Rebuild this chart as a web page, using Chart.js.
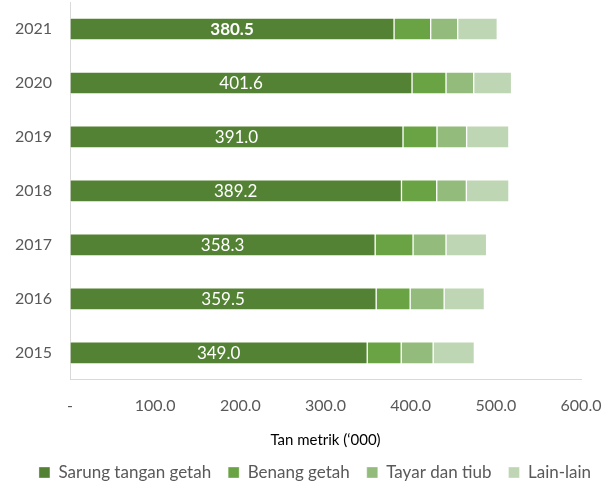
<!DOCTYPE html>
<html>
<head>
<meta charset="utf-8">
<script src="https://cdn.jsdelivr.net/npm/chart.js@4"></script>
<style>
  html, body { margin: 0; padding: 0; background: #fff; }
  #wrap { width: 614px; height: 483px; }
</style>
</head>
<body>
<div id="wrap"><canvas id="rubberChart"></canvas></div>
<script>
// Data
const years = ["2021", "2020", "2019", "2018", "2017", "2016", "2015"]
const sarungTangan = [380.5, 401.6, 391.0, 389.2, 358.3, 359.5, 349.0]
const benangGetah = [43.0, 39.9, 39.9, 41.4, 44.5, 39.9, 39.9]
const tayarTiub = [31.7, 32.5, 34.8, 34.8, 38.7, 39.9, 37.5]
const lainLain = [46.5, 44.5, 49.6, 50.0, 47.7, 47.3, 48.4]
const xTicks = [0, 100, 200, 300, 400, 500, 600]

const fontFamily = "Lato, 'Open Sans', sans-serif"
const grey = "#595959"

// white value labels on the first segment
const valueLabels = {
  id: "valueLabels",
  afterDatasetsDraw(chart) {
    const ctx = chart.ctx
    const meta = chart.getDatasetMeta(0)
    ctx.save()
    ctx.fillStyle = "#fff"
    ctx.textAlign = "center"
    ctx.textBaseline = "middle"
    meta.data.forEach((bar, i) => {
      ctx.font = (i === 0 ? "bold " : "") + "17px " + fontFamily
      ctx.fillText(sarungTangan[i].toFixed(1), (bar.x + bar.base) / 2, bar.y + 1)
    })
    ctx.restore()
  }
}

const seg = (label, data, color) => ({
  label: label,
  data: data,
  backgroundColor: color,
  borderColor: "rgba(255,255,255,0.35)",
  borderWidth: 1,
  borderSkipped: false,
  barThickness: 22
})

const ctx = document.querySelector("#rubberChart").getContext("2d")

new Chart(ctx, {
  type: "bar",
  data: {
    labels: years,
    datasets: [
      seg("Sarung tangan getah", sarungTangan, "#548235"),
      seg("Benang getah", benangGetah, "#6AA343"),
      seg("Tayar dan tiub", tayarTiub, "#93BB7B"),
      seg("Lain-lain", lainLain, "#BFD6B4")
    ]
  },
  options: {
    indexAxis: "y",
    responsive: true,
    maintainAspectRatio: false,
    animation: false,
    layout: {
      padding: { left: 8, right: -8, top: 2, bottom: -8 }
    },
    scales: {
      x: {
        stacked: true,
        min: 0,
        max: 600,
        afterBuildTicks: (axis) => {
          axis.ticks = xTicks.map(v => ({ value: v }))
        },
        afterFit: (axis) => {
          axis.paddingRight = 33
        },
        ticks: {
          color: grey,
          padding: 8,
          font: { family: fontFamily, size: 16 },
          callback: (value) => value === 0 ? "-" : value.toFixed(1)
        },
        grid: { display: false },
        border: { display: true, color: "#D9D9D9" },
        title: {
          display: true,
          text: "Tan metrik (‘000)",
          color: "#000",
          font: { family: fontFamily, size: 15 },
          padding: { top: 8, bottom: -2 }
        }
      },
      y: {
        stacked: true,
        afterFit: (axis) => {
          axis.width = 62
          axis.paddingTop = 0
          axis.paddingBottom = 0
        },
        ticks: {
          color: grey,
          padding: 10,
          font: { family: fontFamily, size: 16 }
        },
        grid: { display: false },
        border: { display: true, color: "#D9D9D9" }
      }
    },
    plugins: {
      legend: {
        position: "bottom",
        labels: {
          color: grey,
          boxWidth: 11,
          boxHeight: 11,
          padding: 17,
          font: { family: fontFamily, size: 17 }
        }
      },
      tooltip: { enabled: false }
    }
  },
  plugins: [valueLabels]
})
</script>
</body>
</html>
